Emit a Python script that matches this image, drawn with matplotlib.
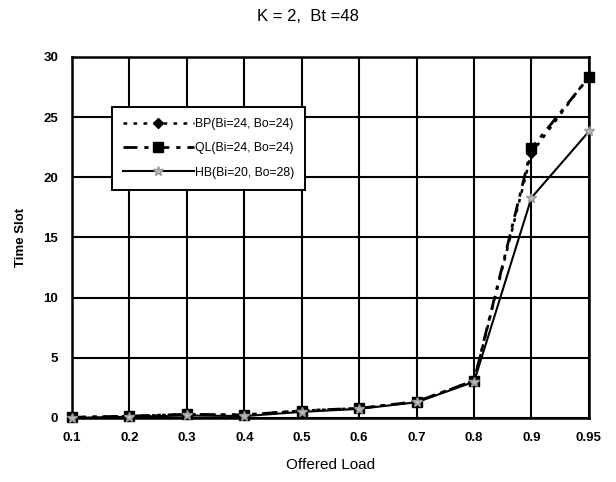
import matplotlib
matplotlib.use('Agg')
import matplotlib.pyplot as plt
import numpy as np

plt.rcParams['font.family'] = ['Liberation Sans', 'DejaVu Sans']

loads = ['0.1', '0.2', '0.3', '0.4', '0.5', '0.6', '0.7', '0.8', '0.9', '0.95']
bp = [0.05, 0.15, 0.3, 0.25, 0.6, 0.8, 1.35, 3.1, 22.0, 28.4]
ql = [0.05, 0.15, 0.3, 0.25, 0.6, 0.8, 1.35, 3.1, 22.4, 28.3]
hb = [0.0, 0.1, 0.2, 0.15, 0.5, 0.75, 1.3, 3.0, 18.3, 23.8]
labels = ['BP(Bi=24, Bo=24)', 'QL(Bi=24, Bo=24)', 'HB(Bi=20, Bo=28)']

fig = plt.figure(figsize=(6.16, 4.82), dpi=100)
ax = fig.add_axes([0.117, 0.133, 0.839, 0.749])
x = np.arange(len(loads))

ax.plot(x, bp, color='black', linestyle=(0, (1.5, 2.5)), linewidth=1.8,
        marker='D', markersize=5, label=labels[0], clip_on=False, zorder=4)
ax.plot(x, ql, color='black', linestyle=(0, (5, 2.5, 1.5, 2.5)), linewidth=2.0,
        marker='s', markersize=7, label=labels[1], clip_on=False, zorder=3)
ax.plot(x, hb, color='black', linestyle='-', linewidth=1.5,
        marker='*', markersize=7, markerfacecolor='#bbbbbb',
        markeredgecolor='#999999', label=labels[2], clip_on=False, zorder=5)

ax.set_xlim(0, len(loads) - 1)
ax.set_ylim(0, 30)
ax.set_xticks(x)
ax.set_xticklabels(loads)
ax.set_yticks(np.arange(0, 31, 5))
ax.grid(True, color='black', linewidth=1.5)
ax.set_axisbelow(True)
for s in ax.spines.values():
    s.set_linewidth(1.8)
ax.tick_params(length=0, pad=10, labelsize=9.5)
for t in ax.get_xticklabels() + ax.get_yticklabels():
    t.set_fontweight('bold')

ax.set_xlabel('Offered Load', fontsize=11, labelpad=10)
ax.set_ylabel('Time Slot', fontsize=9.5, fontweight='bold', labelpad=12)
fig.text(0.5, 0.965, 'K = 2,  Bt =48', ha='center', va='center', fontsize=12)

leg = ax.legend(loc='upper left', bbox_to_anchor=(0.077, 0.861), borderaxespad=0,
                fontsize=8.8, frameon=True, fancybox=False, framealpha=1,
                edgecolor='black', handlelength=5.8, borderpad=0.9,
                labelspacing=1.0, handletextpad=0.1)
leg.get_frame().set_linewidth(1.4)

fig.savefig('out.png', dpi=100)
